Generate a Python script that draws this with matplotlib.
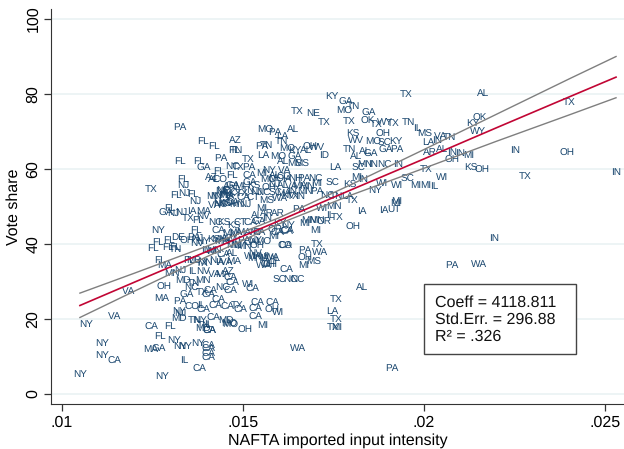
import matplotlib
matplotlib.use("Agg")
import matplotlib.pyplot as plt
from matplotlib.patches import Rectangle

plt.rcParams['font.family'] = ['Liberation Sans', 'DejaVu Sans']
plt.rcParams['text.hinting'] = 'none'
plt.rcParams['text.hinting_factor'] = 1

NAVY = '#1a476f'
CRANBERRY = '#c10534'
CI_GRAY = '#7f7f7f'
GRID = '#eaf2f3'
AXIS = '#333333'

# state label of each commuting zone
states = [
    'PA', 'FL', 'FL', 'AZ', 'FL', 'FL', 'PA', 'GA',
    'FL', 'NC', 'FL', 'AZ', 'AL', 'CO', 'FL', 'NJ',
    'TX', 'FL', 'NJ', 'FL', 'NJ', 'NE', 'MN', 'FL',
    'GA', 'NJ', 'IA', 'NJ', 'MA', 'TX', 'FL', 'NV',
    'NY', 'NC', 'KS', 'FL', 'CA', 'FL', 'FL', 'DE',
    'PA', 'NJ', 'FL', 'FL', 'FL', 'TN', 'FL', 'MA',
    'FL', 'MD', 'MN', 'NJ', 'IL', 'NV', 'VA', 'MA',
    'AZ', 'MD', 'MN', 'TN', 'CA', 'CA', 'VA', 'OH',
    'NC', 'NC', 'CA', 'TX', 'GA', 'CA', 'CA', 'MA',
    'PA', 'CA', 'IL', 'CA', 'CO', 'CA', 'CA', 'NY',
    'NJ', 'VA', 'NY', 'MD', 'CA', 'FL', 'TN', 'NY',
    'CA', 'MD', 'MO', 'TN', 'IL', 'MD', 'CA', 'CA',
    'FL', 'NY', 'NY', 'NY', 'NY', 'NY', 'CA', 'CA',
    'MA', 'GA', 'CA', 'CA', 'NY', 'CA', 'IL', 'CA',
    'NY', 'NY', 'TX', 'MI', 'PA', 'WA', 'OH', 'MS',
    'MI', 'CO', 'CA', 'MO', 'CA', 'AL', 'IA', 'OH',
    'CA', 'SC', 'NC', 'NC', 'WI', 'CA', 'AL', 'TX',
    'CA', 'CA', 'TX', 'OH', 'WI', 'CA', 'LA', 'TX',
    'CA', 'MI', 'OH', 'MO', 'TX', 'MI', 'WA', 'PA',
    'CA', 'AL', 'TX', 'OK', 'KY', 'WY', 'TN', 'IL',
    'MS', 'VA', 'TN', 'IN', 'LA', 'AL', 'AR', 'IN',
    'IN', 'MI', 'OH', 'IN', 'OH', 'IN', 'KS', 'OH',
    'TX', 'TX', 'WI', 'SC', 'MI', 'MI', 'IL', 'IN',
    'PA', 'WA', 'KY', 'GA', 'TN', 'MO', 'TX', 'NE',
    'GA', 'TX', 'TX', 'TX', 'OK', 'TX', 'WY', 'TX',
    'AL', 'MO', 'PA', 'KS', 'OH', 'WV', 'LA', 'TN',
    'MO', 'SC', 'KY', 'TN', 'PA', 'FL', 'TN', 'MO',
    'KY', 'AL', 'OH', 'WV', 'ID', 'TN', 'AL', 'GA',
    'GA', 'PA', 'AL', 'TX', 'LA', 'MO', 'GA', 'AL',
    'MS', 'MS', 'LA', 'SC', 'MN', 'IN', 'NC', 'IN',
    'TX', 'PA', 'CA', 'MI', 'NY', 'VA', 'SC', 'NC',
    'MI', 'IN', 'WI', 'WI', 'NY', 'KS', 'TX', 'MI',
    'MI', 'UT', 'IA', 'IA', 'MN', 'WI', 'PA', 'IL',
    'TX', 'MN', 'MN', 'OR', 'MI', 'OH', 'CA', 'OR',
    'NY', 'KY', 'AR', 'AR', 'MI', 'MS', 'MO', 'IA',
    'NH', 'PA', 'NJ', 'AL', 'VA', 'MA', 'MN', 'SC',
    'MA', 'IN', 'MN', 'PA', 'WA', 'NC', 'NJ', 'TN',
    'TX', 'CA', 'KY', 'IN', 'NC', 'TN', 'LA', 'NJ',
    'MN', 'KS', 'FL', 'NE', 'NY', 'MO', 'AL', 'CO',
    'MI', 'TX', 'NV', 'OH', 'CT', 'KS', 'GA', 'MI',
    'AR', 'NC', 'IA', 'MA', 'CT', 'CA', 'KS', 'MA',
    'NJ', 'VA', 'AL', 'IN', 'GA', 'MN', 'PA', 'MN',
    'IA', 'VA', 'MA', 'NJ', 'CA', 'AL', 'NJ', 'MN',
    'CA', 'PA', 'MN', 'WI', 'OH', 'NV', 'IA', 'MN',
    'MI', 'WA', 'OH', 'WA', 'NY', 'WI', 'MI', 'CA',
    'IL', 'KS', 'MN', 'TX', 'OH', 'NV', 'NY', 'MN',
    'AZ', 'WI', 'MN', 'NV', 'CA', 'VA', 'MA', 'GA',
    'NC',
]

input_intensity = [
    .01327, .01391, .01421, .01479, .01327, .01379, .01439, .01392,
    .01433, .01470, .01470, .01414, .01420, .01437, .01334, .01335,
    .01247, .01316, .01338, .01362, .01368, .01446, .01419, .01299,
    .01288, .01308, .01359, .01331, .01391, .01350, .01377, .01391,
    .01267, .01423, .01448, .01371, .01433, .01265, .01297, .01322,
    .01364, .01375, .01253, .01294, .01313, .01313, .01272, .01285,
    .01350, .01366, .01304, .01327, .01359, .01391, .01423, .01445,
    .01460, .01334, .01391, .01363, .01465, .01470, .01184, .01282,
    .01359, .01442, .01410, .01387, .01345, .01405, .01465, .01277,
    .01327, .01433, .01385, .01423, .01359, .01391, .01456, .01325,
    .01327, .01146, .01067, .01322, .01247, .01299, .01365, .01382,
    .01419, .01454, .01465, .01391, .01404, .01391, .01407, .01407,
    .01272, .01310, .01327, .01341, .01377, .01110, .01405, .01405,
    .01244, .01267, .01405, .01405, .01110, .01144, .01339, .01379,
    .01051, .01278, .01706, .01702, .01670, .01713, .01672, .01695,
    .01667, .01617, .01617, .01557, .01621, .01589, .01538, .01570,
    .01621, .01601, .01630, .01649, .01514, .01527, .01829, .01758,
    .01541, .01582, .01483, .01580, .01598, .01534, .01746, .01758,
    .01534, .01554, .01505, .01463, .01750, .01758, .01653, .01912,
    .01492, .02164, .02402, .02153, .02134, .02148, .01956, .01982,
    .02001, .02045, .02070, .02036, .02013, .02050, .02017, .02077,
    .02100, .02123, .02077, .02251, .02396, .02530, .02130, .02159,
    .02280, .02006, .02050, .01953, .01976, .02006, .02029, .02194,
    .02077, .02151, .01745, .01784, .01804, .01780, .01649, .01695,
    .01848, .01951, .01723, .01792, .01845, .01868, .01893, .01914,
    .01639, .01561, .01589, .01803, .01888, .01812, .01608, .01605,
    .01861, .01891, .01921, .01566, .01552, .01476, .01482, .01623,
    .01644, .01675, .01686, .01704, .01723, .01793, .01838, .01852,
    .01893, .01925, .01813, .01515, .01557, .01598, .01644, .01612,
    .01663, .01642, .01755, .01818, .01838, .01860, .01890, .01928,
    .01488, .01517, .01517, .01552, .01571, .01615, .01747, .01700,
    .01815, .01832, .01884, .01925, .01865, .01796, .01801, .01925,
    .01921, .01916, .01888, .01828, .01750, .01718, .01655, .01741,
    .01759, .01681, .01704, .01725, .01670, .01804, .01623, .01589,
    .01626, .01603, .01598, .01566, .01552, .01566, .01592, .01621,
    .01644, .01669, .01586, .01612, .01635, .01658, .01678, .01589,
    .01612, .01635, .01672, .01704, .01603, .01557, .01538, .01515,
    .01497, .01502, .01479, .01658, .01732, .01759, .01787, .01506,
    .01483, .01451, .01451, .01442, .01428, .01571, .01589, .01612,
    .01704, .01640, .01626, .01571, .01529, .01529, .01520, .01490,
    .01465, .01437, .01465, .01460, .01492, .01520, .01474, .01502,
    .01534, .01483, .01538, .01566, .01543, .01465, .01543, .01396,
    .01437, .01456, .01474, .01423, .01446, .01469, .01483, .01502,
    .01520, .01502, .01474, .01414, .01538, .01534, .01561, .01534,
    .01557, .01580, .01575, .01557, .01534, .01520, .01584, .01594,
    .01396, .01419, .01442, .01387, .01345, .01373, .01391, .01433,
    .01456, .01470, .01419, .01437, .01470, .01423, .01451, .01473,
    .01465,
]

vote_share = [
    71.0, 67.3, 66.1, 67.5, 61.9, 61.9, 62.8, 60.1,
    59.3, 60.4, 58.2, 57.7, 57.3, 57.1, 57.3, 55.6,
    54.6, 53.0, 53.5, 53.3, 51.3, 54.2, 52.6, 49.5,
    48.2, 48.2, 48.6, 48.5, 48.6, 46.7, 46.4, 47.3,
    43.5, 45.5, 45.5, 43.7, 43.3, 40.5, 40.9, 41.8,
    41.8, 41.5, 38.9, 39.1, 39.1, 38.5, 35.6, 34.2,
    35.7, 35.7, 32.2, 33.1, 32.6, 32.6, 31.9, 31.9,
    32.6, 30.4, 30.4, 29.4, 30.8, 29.5, 27.3, 28.4,
    28.2, 28.2, 27.5, 27.0, 26.4, 26.2, 27.3, 25.4,
    24.6, 25.1, 23.7, 23.3, 23.0, 22.4, 23.1, 22.1,
    21.5, 20.6, 18.5, 20.1, 17.9, 17.9, 19.5, 19.5,
    20.2, 19.7, 18.4, 18.4, 18.6, 17.6, 16.6, 16.8,
    15.3, 14.2, 12.6, 12.8, 13.5, 13.5, 12.8, 11.9,
    11.9, 11.9, 10.7, 9.5, 10.2, 8.7, 9.0, 6.6,
    5.2, 4.7, 39.9, 43.5, 38.4, 37.8, 36.3, 35.1,
    34.4, 39.5, 39.5, 40.5, 43.1, 36.2, 36.6, 34.4,
    33.1, 30.4, 30.4, 30.4, 29.1, 27.9, 28.4, 25.3,
    24.2, 24.2, 23.7, 22.4, 21.8, 22.7, 22.0, 19.9,
    20.5, 18.4, 17.1, 18.6, 17.8, 17.8, 12.2, 6.9,
    22.4, 80.2, 77.8, 73.5, 72.2, 70.0, 72.5, 70.7,
    69.3, 68.6, 68.4, 67.5, 67.1, 65.3, 64.3, 64.4,
    64.2, 63.7, 62.2, 65.0, 64.2, 59.1, 60.2, 59.6,
    58.1, 59.9, 57.8, 57.3, 55.6, 55.6, 55.3, 41.5,
    34.3, 34.6, 79.3, 77.7, 76.6, 75.3, 75.3, 74.9,
    74.9, 79.9, 72.5, 72.6, 72.6, 72.0, 72.3, 72.2,
    70.5, 70.2, 69.8, 69.3, 69.3, 67.7, 68.6, 67.3,
    67.1, 66.9, 67.3, 66.4, 66.1, 64.9, 64.9, 65.3,
    64.9, 64.9, 65.7, 65.7, 63.7, 65.3, 64.6, 64.0,
    65.1, 65.1, 63.3, 62.6, 63.5, 63.1, 63.1, 61.9,
    61.3, 61.3, 60.4, 60.2, 61.3, 61.1, 61.1, 61.1,
    60.4, 60.4, 58.0, 58.9, 59.7, 59.5, 56.1, 57.3,
    57.8, 57.3, 56.2, 55.7, 54.2, 55.7, 51.7, 51.3,
    50.9, 49.3, 48.9, 48.7, 50.0, 49.5, 49.3, 47.5,
    47.1, 46.4, 46.4, 45.8, 45.5, 44.5, 43.3, 43.7,
    45.0, 45.5, 48.2, 48.2, 49.5, 51.3, 57.3, 57.3,
    57.5, 57.5, 55.9, 55.7, 55.4, 55.7, 55.3, 53.5,
    53.5, 53.9, 53.9, 53.9, 52.1, 53.5, 53.9, 54.4,
    53.5, 52.1, 53.5, 52.6, 52.6, 52.6, 52.6, 50.6,
    50.6, 50.6, 53.0, 53.9, 52.6, 57.0, 58.4, 57.9,
    56.1, 52.6, 53.0, 54.8, 52.1, 55.3, 56.1, 55.3,
    55.3, 50.4, 52.6, 50.8, 45.6, 45.6, 44.6, 43.2,
    43.0, 43.2, 47.7, 46.8, 45.9, 42.8, 43.0, 35.1,
    35.1, 35.1, 35.3, 35.7, 37.0, 37.5, 39.7, 39.3,
    40.1, 41.0, 39.7, 37.9, 39.3, 37.5, 36.1, 36.1,
    36.8, 36.3, 34.4, 34.4, 41.0, 36.6, 41.9, 42.8,
    38.4, 41.0, 40.6, 34.8, 40.6, 40.2, 40.6, 41.1,
    41.5, 41.2, 38.4, 50.8, 50.8, 50.4, 53.0, 55.3,
    53.5,
]

# fitted line and confidence band
fit_x = [.0105, .012, .014, .016, .018, .020, .022, .024, .0253]
fit_y = [23.6, 29.8, 38.0, 46.2, 54.5, 62.7, 71.0, 79.2, 84.5]
ci_upper = [26.9, 32.2, 39.4, 47.0, 55.9, 65.2, 74.6, 84.0, 90.0]
ci_lower = [20.4, 27.4, 36.6, 45.4, 53.1, 60.2, 67.4, 74.4, 79.0]

x_ticks = [.01, .015, .02, .025]
x_tick_labels = ['.01', '.015', '.02', '.025']
y_ticks = [0, 20, 40, 60, 80, 100]

stats_lines = ['Coeff = 4118.811', 'Std.Err. = 296.88', 'R² = .326']

fig = plt.figure(figsize=(6.24, 4.49), dpi=100)
ax = fig.add_axes([51.3 / 624, 45 / 449, (624 - 51.3) / 624, 395 / 449])

for state, x, y in zip(states, input_intensity, vote_share, strict=True):
    ax.text(x, y, state, color=NAVY, fontsize=7.2, ha='center', va='center', zorder=3)

ax.plot(fit_x, ci_upper, color=CI_GRAY, lw=1.0, zorder=4)
ax.plot(fit_x, ci_lower, color=CI_GRAY, lw=1.0, zorder=4)
ax.plot(fit_x, fit_y, color=CRANBERRY, lw=1.2, zorder=5)

ax.set_xlim(.00971, .02552)
ax.set_ylim(-2.67, 102.67)
ax.set_xticks(x_ticks)
ax.set_xticklabels(x_tick_labels)
ax.set_yticks(y_ticks)
ax.tick_params(axis='both', labelsize=11.5, length=4.8, width=0.9, color=AXIS, labelcolor='black')
ax.tick_params(axis='y', labelrotation=90, pad=3)
for label in ax.get_yticklabels():
    label.set_va('center')
ax.set_xlabel('NAFTA imported input intensity', fontsize=11.8, labelpad=2)
ax.set_ylabel('Vote share', fontsize=11.8, labelpad=3)

ax.grid(axis='y', color=GRID, lw=1.2)
ax.set_axisbelow(True)
ax.spines['top'].set_visible(False)
ax.spines['right'].set_visible(False)
ax.spines['left'].set_color(AXIS)
ax.spines['bottom'].set_color(AXIS)

# stats box
ax.add_patch(Rectangle((.02, 10.6), .0042, 18.8, facecolor='white', edgecolor='#444444', lw=1.0, zorder=6))
for line, y in zip(stats_lines, [24.3, 19.9, 15.4]):
    ax.text(.0203, y, line, fontsize=11.6, color='#111111', ha='left', va='center', zorder=7)

fig.savefig('out.png', dpi=100)
